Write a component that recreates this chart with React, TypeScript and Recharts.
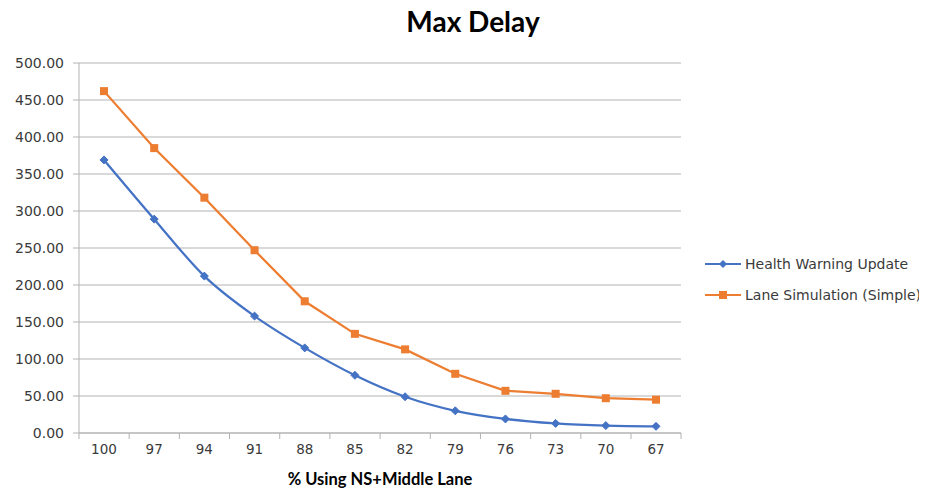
import React from "react";
import { LineChart, Line, XAxis, YAxis, CartesianGrid } from "recharts";

const categories = ["100", "97", "94", "91", "88", "85", "82", "79", "76", "73", "70", "67"];
const healthWarning = [369, 289, 212, 158, 115, 78, 49, 30, 19, 13, 10, 9];
const laneSimulation = [462, 385, 318, 247, 178, 134, 113, 80, 57, 53, 47, 45];
const yTicks = [0, 50, 100, 150, 200, 250, 300, 350, 400, 450, 500];

const BLUE = "#4472C4";
const ORANGE = "#ED7D31";
const GRID = "#b3b3b3";
const TITLE_FONT = "Lato, 'Open Sans', sans-serif";
const TICK_FONT = "'DejaVu Sans', Verdana, sans-serif";
const HALF_BAND = 25;

const data = categories.map((c, i) => ({
  cat: c,
  health: healthWarning[i],
  lane: laneSimulation[i],
}));

const Diamond = (props: any) => {
  const { cx, cy, index } = props;
  if (cx == null || cy == null) return null;
  const r = 4;
  return (
    <path key={`d${index}`} d={`M${cx},${cy - r} L${cx + r},${cy} L${cx},${cy + r} L${cx - r},${cy} Z`} fill={BLUE} stroke={BLUE} />
  );
};

const Square = (props: any) => {
  const { cx, cy, index } = props;
  if (cx == null || cy == null) return null;
  return <rect key={`s${index}`} x={cx - 4} y={cy - 4} width={8} height={8} fill={ORANGE} />;
};

const XTick = (props: any) => {
  const { x, y, payload, index } = props;
  return (
    <g>
      <line x1={x - HALF_BAND} x2={x - HALF_BAND} y1={y - 8} y2={y - 2} stroke={GRID} />
      {index === categories.length - 1 && (
        <line x1={x + HALF_BAND} x2={x + HALF_BAND} y1={y - 8} y2={y - 2} stroke={GRID} />
      )}
      <text x={x} y={y + 13} textAnchor="middle" fontSize={13.5} fill="#3a3a3a" fontFamily={TICK_FONT}>
        {payload.value}
      </text>
    </g>
  );
};

const legendItems = [
  { name: "Health Warning Update", color: BLUE, shape: "d" },
  { name: "Lane Simulation (Simple)", color: ORANGE, shape: "s" },
];

export default function App() {
  return (
    <div style={{ margin: "-8px -8px 0 -8px", width: 927, height: 493, background: "#fff", position: "relative" }}>
      <div
        style={{
          position: "absolute",
          top: 4,
          left: 0,
          width: 927,
          textAlign: "center",
          fontFamily: TITLE_FONT,
          fontWeight: 700,
          fontSize: 28,
          color: "#000",
          paddingLeft: 19,
          boxSizing: "border-box",
        }}
      >
        Max Delay
      </div>
      <div style={{ position: "absolute", left: 703, top: 248, fontFamily: TICK_FONT, fontSize: 14, color: "#3a3a3a" }}>
        {legendItems.map((it) => (
          <div key={it.name} style={{ display: "flex", alignItems: "center", height: 31 }}>
            <svg width={40} height={12}>
              <line x1={2} x2={38} y1={6} y2={6} stroke={it.color} strokeWidth={2} />
              {it.shape === "d" ? (
                <path d="M20,2 L24,6 L20,10 L16,6 Z" fill={it.color} />
              ) : (
                <rect x={16} y={2} width={8} height={8} fill={it.color} />
              )}
            </svg>
            <span style={{ marginLeft: 2 }}>{it.name}</span>
          </div>
        ))}
      </div>
      <LineChart width={927} height={493} data={data} margin={{ top: 63, right: 246, bottom: 30, left: 19 }}>
        <CartesianGrid vertical={false} stroke={GRID} strokeWidth={1} />
        <XAxis
          dataKey="cat"
          tick={<XTick />}
          tickLine={false}
          axisLine={{ stroke: GRID }}
          interval={0}
          padding={{ left: HALF_BAND, right: HALF_BAND }}
          height={30}
          label={{
            value: "% Using NS+Middle Lane",
            position: "insideBottom",
            offset: -22,
            style: { fontFamily: TITLE_FONT, fontWeight: 700, fontSize: 16.5, fill: "#000" },
          }}
        />
        <YAxis
          width={60}
          domain={[0, 500]}
          ticks={yTicks}
          tickFormatter={(v: number) => v.toFixed(2)}
          tick={{ fontSize: 14, fill: "#3a3a3a", fontFamily: TICK_FONT, dx: -7 }}
          tickLine={{ stroke: GRID }}
          tickSize={6}
          axisLine={{ stroke: GRID }}
          interval={0}
        />
        <Line
          type="monotone"
          dataKey="health"
          stroke={BLUE}
          strokeWidth={2.25}
          dot={<Diamond />}
          activeDot={false}
          isAnimationActive={false}
        />
        <Line
          type="linear"
          dataKey="lane"
          stroke={ORANGE}
          strokeWidth={2.25}
          dot={<Square />}
          activeDot={false}
          isAnimationActive={false}
        />
      </LineChart>
    </div>
  );
}
